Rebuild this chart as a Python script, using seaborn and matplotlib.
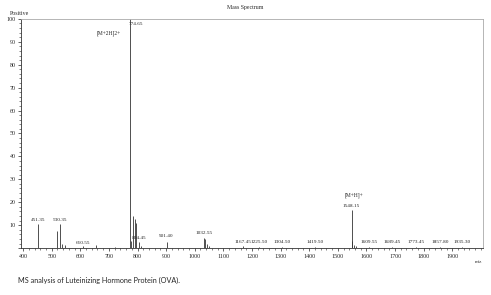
import matplotlib
matplotlib.use('Agg')
import matplotlib.pyplot as plt
import seaborn as sns
from matplotlib.ticker import MultipleLocator

# peak list (m/z, relative intensity)
mz = [451.35, 518.4, 530.35, 536.0, 545.0, 610.55, 655.0, 720.0, 774.65, 777.5,
      784.0, 790.0, 795.0, 804.45, 812.0, 901.40, 1032.55, 1037.0, 1042.0, 1048.0,
      1167.45, 1225.50, 1304.50, 1419.50, 1548.15, 1551.0, 1556.0, 1565.0,
      1609.55, 1689.45, 1773.45, 1857.80, 1935.30]
intensity = [10.5, 7.5, 10.5, 2.0, 1.5, 0.8, 1.5, 0.5, 100.0, 3.0,
             14.0, 12.5, 11.0, 2.5, 1.0, 2.5, 4.5, 4.0, 2.0, 1.0,
             1.0, 0.5, 0.5, 0.4, 16.5, 3.0, 1.5, 1.0,
             0.6, 0.4, 0.4, 0.4, 0.4]

# labelled peaks
label_mz = [451.35, 530.35, 610.55, 774.65, 804.45, 901.40, 1032.55, 1167.45,
            1225.50, 1304.50, 1419.50, 1548.15, 1609.55, 1689.45, 1773.45,
            1857.80, 1935.30]
label_y = [11.5, 11.5, 1.5, 97.0, 3.5, 4.5, 5.5, 1.8, 1.8, 1.8, 1.8, 17.5,
           1.8, 1.8, 1.8, 1.8, 1.8]

ion_text = ['[M+2H]2+', '[M+H]+']
ion_x = [700, 1558]
ion_y = [92.5, 22.0]

y_ticks = list(range(0, 101, 10))
x_ticks = list(range(400, 2000, 100))

sns.set_theme(style='ticks')
plt.rcParams['font.family'] = ['Liberation Serif', 'DejaVu Serif']

fig = plt.figure(figsize=(4.91, 2.95), dpi=100)
ax = fig.add_axes([0.043, 0.159, 0.941, 0.777])

ax.vlines(mz, 0, intensity, colors='#333333', linewidth=0.6)

for x, y in zip(label_mz, label_y):
    if x == 774.65:
        ax.text(x - 5, y, f'{x:.2f}', fontsize=3.8, ha='left', va='bottom')
    else:
        ax.text(x, y, f'{x:.2f}', fontsize=3.8, ha='center', va='bottom')

for t, x, y in zip(ion_text, ion_x, ion_y):
    ax.text(x, y, t, fontsize=4, ha='center', va='bottom')

ax.set_xlim(393, 2008)
ax.set_ylim(0, 100)
ax.set_xticks(x_ticks)
ax.xaxis.set_minor_locator(MultipleLocator(20))
ax.set_yticks(y_ticks)
ax.set_yticklabels([str(v) if v > 0 else '' for v in y_ticks])
ax.yaxis.set_minor_locator(MultipleLocator(2))
ax.tick_params(axis='both', which='major', labelsize=4.3, length=2.5, width=0.5, pad=1.5)
ax.tick_params(axis='both', which='minor', length=1.2, width=0.4)

for side in ['left', 'bottom']:
    ax.spines[side].set_color('#333333')
    ax.spines[side].set_linewidth(0.6)
for side in ['top', 'right']:
    ax.spines[side].set_color('#aaaaaa')
    ax.spines[side].set_linewidth(0.6)

fig.text(0.5, 0.975, 'Mass Spectrum', fontsize=4.2, ha='center', va='center')
fig.text(0.02, 0.955, 'Positive', fontsize=4.2, ha='left', va='center')
fig.text(0.968, 0.112, 'm/z', fontsize=3.6, ha='left', va='center')
fig.text(0.037, 0.05, 'MS analysis of Luteinizing Hormone Protein (OVA).',
         fontsize=5.2, ha='left', va='center', family=['Lato', 'DejaVu Sans'])

fig.savefig('out.png', dpi=100, facecolor='white')
